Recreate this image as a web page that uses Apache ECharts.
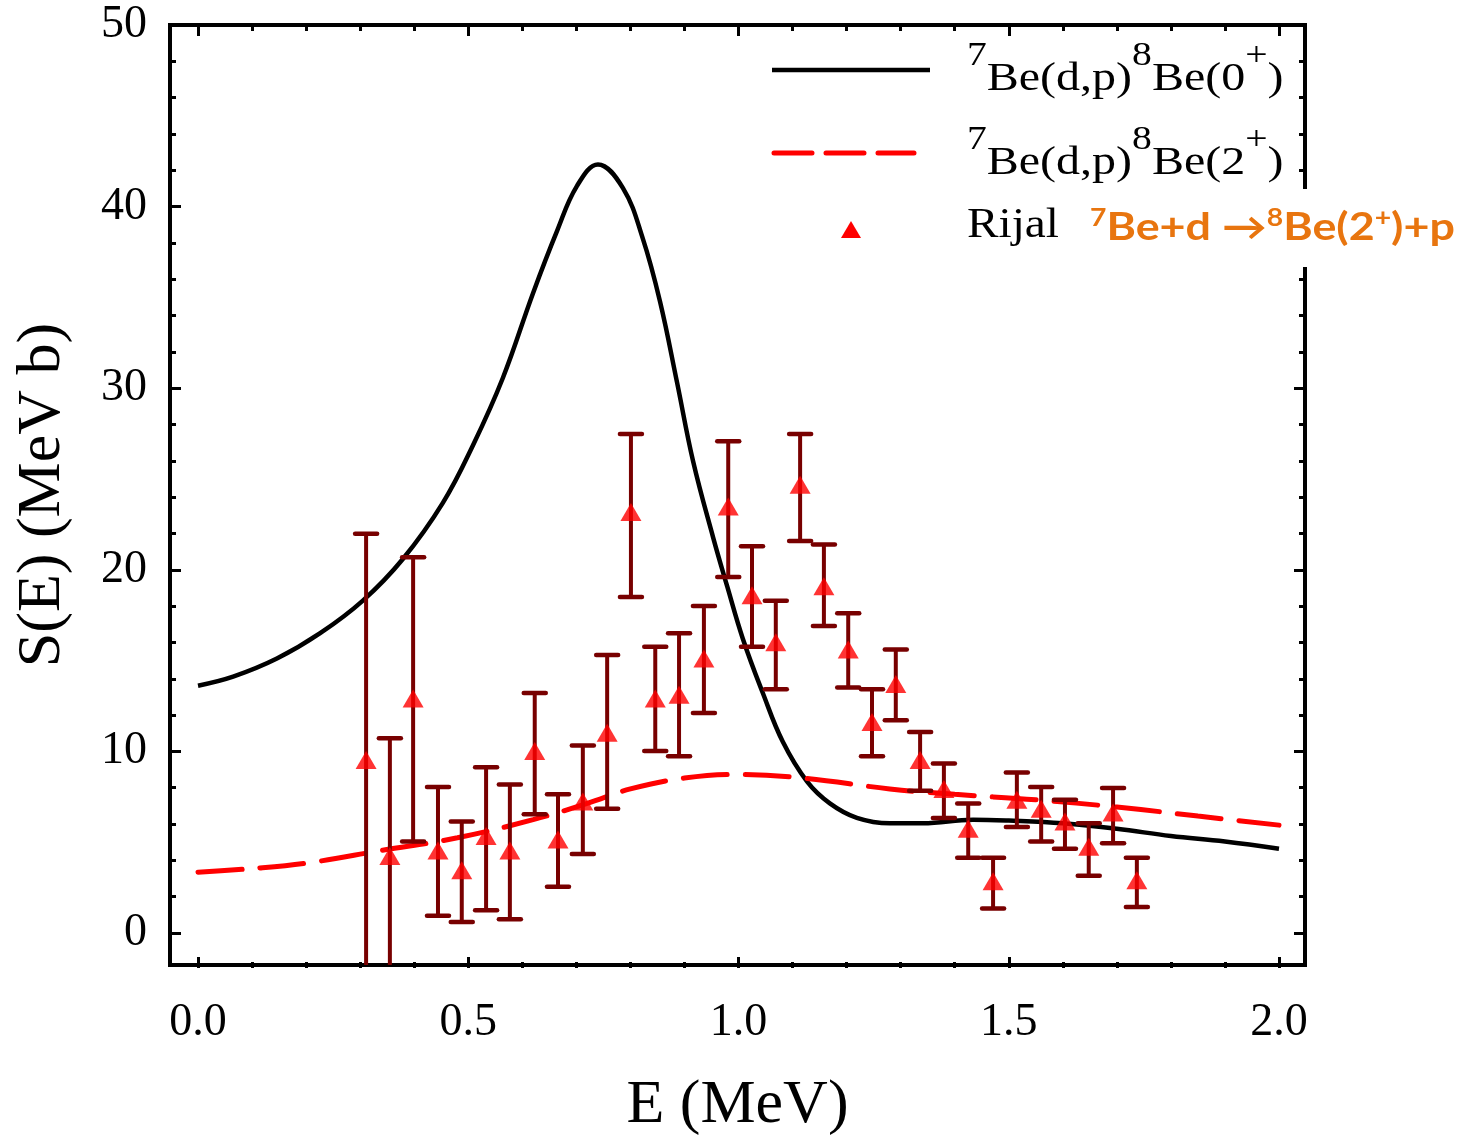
<!DOCTYPE html>
<html>
<head>
<meta charset="utf-8">
<script src="https://cdn.jsdelivr.net/npm/echarts@6/dist/echarts.min.js"></script>
<style>
  html, body { margin: 0; padding: 0; background: #fff; }
  #chart { width: 1460px; height: 1142px; }
</style>
</head>
<body>
<div id="chart"></div>
<script>
// ---------------- DATA ----------------
// Theory curve 7Be(d,p)8Be(0+)
const curve0E = [0.0, 0.065, 0.146, 0.226, 0.305, 0.379, 0.453, 0.509, 0.564, 0.620, 0.664, 0.701, 0.740, 0.786, 0.823, 0.855, 0.886, 0.916, 0.953, 0.979, 1.008, 1.045, 1.082, 1.127, 1.169, 1.219, 1.280, 1.341, 1.434, 1.5, 1.6, 1.7, 1.8, 1.9, 2.0];
const curve0S = [13.5, 14.0, 15.0, 16.4, 18.2, 20.5, 23.6, 26.8, 30.5, 35.2, 38.6, 41.1, 42.3, 41.0, 38.2, 34.7, 30.3, 25.9, 21.7, 19.0, 16.1, 13.1, 10.4, 8.2, 7.0, 6.2, 5.9, 5.9, 6.1, 6.05, 5.9, 5.6, 5.2, 4.9, 4.5];
// Theory curve 7Be(d,p)8Be(2+)
const curve2E = [0.0, 0.1, 0.2, 0.34, 0.48, 0.62, 0.72, 0.8, 0.9, 1.0, 1.12, 1.28, 1.4, 1.55, 1.7, 1.85, 2.0];
const curve2S = [3.2, 3.4, 3.7, 4.4, 5.1, 6.1, 7.0, 7.8, 8.4, 8.6, 8.4, 7.8, 7.5, 7.2, 6.8, 6.3, 5.8];
// Rijal data points
const rijalE  = [0.311, 0.355, 0.398, 0.444, 0.488, 0.533, 0.577, 0.623, 0.666, 0.712, 0.757, 0.801, 0.846, 0.890, 0.936, 0.981, 1.025, 1.069, 1.114, 1.158, 1.203, 1.247, 1.291, 1.336, 1.380, 1.425, 1.471, 1.515, 1.560, 1.604, 1.648, 1.693, 1.737];
const rijalS  = [9.4, 4.1, 12.8, 4.4, 3.3, 5.2, 4.4, 9.9, 5.0, 7.1, 10.9, 23.1, 12.8, 13.0, 15.0, 23.4, 18.5, 15.9, 24.6, 19.0, 15.5, 11.5, 13.6, 9.4, 7.8, 5.6, 2.7, 7.2, 6.7, 6.0, 4.6, 6.5, 2.75];
const rijalHi = [21.9, 10.6, 20.6, 7.9, 6.0, 9.0, 8.05, 13.1, 7.5, 10.2, 15.2, 27.4, 15.65, 16.4, 17.9, 27.0, 21.2, 18.2, 27.4, 21.3, 17.5, 13.3, 15.5, 10.95, 9.2, 7.0, 4.0, 8.7, 7.9, 7.2, 5.9, 7.85, 4.0];
const rijalLo = [-3.1, -2.4, 4.9, 0.8, 0.45, 1.1, 0.6, 6.4, 2.4, 4.2, 6.7, 18.4, 9.9, 9.6, 12.0, 19.5, 15.65, 13.3, 21.5, 16.8, 13.4, 9.6, 11.6, 7.7, 6.2, 4.0, 1.2, 5.7, 4.9, 4.5, 3.0, 4.8, 1.27];

// Tick labels
const xTickLabels = ['0.0', '0.5', '1.0', '1.5', '2.0'];
const yTickLabels = ['0', '10', '20', '30', '40', '50'];

// Texts
const xTitle = 'E (MeV)';
const yTitle = 'S(E) (MeV b)';
const legend0 = '{sup|7}{n|Be(d,p)}{sup|8}{n|Be(0}{sup|+}{n|)}';
const legend2 = '{sup|7}{n|Be(d,p)}{sup|8}{n|Be(2}{sup|+}{n|)}';
const legendData = 'Rijal';
const legendNote = '{sup|7}{n|Be+d \u2192}{sup|8}{n|Be(2}{sup|+}{n|)+p}';

// ---------------- LAYOUT ----------------
const FRAME = { left: 170, top: 25, right: 1305, bottom: 968 };
const INNER = { left: 198, top: 25, right: 1279, bottom: 933 }; // x 0..2, y 0..50
const pxPerX = (INNER.right - INNER.left) / 2;
const pxPerY = (INNER.bottom - INNER.top) / 50;
const xMinFrame = -(INNER.left - FRAME.left) / pxPerX;
const xMaxFrame = 2 + (FRAME.right - INNER.right) / pxPerX;
const yMinFrame = -(FRAME.bottom - INNER.bottom) / pxPerY;

const SERIF = '"Liberation Serif", "Times New Roman", serif';
const SANS_B = 'Lato, "Open Sans", sans-serif';
const ERR_COLOR = '#780000';
const ORANGE = '#e8750f';

const chart = echarts.init(document.getElementById('chart'), null, { renderer: 'canvas' });

const tickStyle = { inside: true, length: 11, lineStyle: { color: '#000', width: 3 } };
const minorStyle = { show: true, splitNumber: 5, length: 6, lineStyle: { color: '#000', width: 3 } };
const noLine = { show: false, onZero: false };

const serifRich = {
  n: { fontFamily: SERIF, fontSize: 40, lineHeight: 59, verticalAlign: 'bottom', fill: '#000' },
  sup: { fontFamily: SERIF, fontSize: 33, lineHeight: 36, verticalAlign: 'top', fill: '#000' }
};

const option = {
  animation: false,
  backgroundColor: '#fff',
  grid: [
    { left: FRAME.left, top: FRAME.top, width: FRAME.right - FRAME.left, height: FRAME.bottom - FRAME.top,
      show: true, borderColor: '#000', borderWidth: 4, backgroundColor: 'transparent' },
    { left: INNER.left, top: INNER.top, width: INNER.right - INNER.left, height: INNER.bottom - INNER.top }
  ],
  xAxis: [
    { type: 'value', gridIndex: 0, min: xMinFrame, max: xMaxFrame,
      axisLine: noLine, axisTick: { show: false }, axisLabel: { show: false }, splitLine: { show: false },
      name: xTitle, nameLocation: 'middle', nameGap: 110,
      nameTextStyle: { fontFamily: SERIF, fontSize: 62, color: '#000' } },
    { type: 'value', gridIndex: 1, position: 'bottom', offset: FRAME.bottom - INNER.bottom, min: 0, max: 2, interval: 0.5,
      axisLine: noLine, axisTick: tickStyle, minorTick: minorStyle, splitLine: { show: false },
      axisLabel: { margin: 32, fontFamily: SERIF, fontSize: 46, color: '#000',
        formatter: (v, i) => xTickLabels[i] } },
    { type: 'value', gridIndex: 1, position: 'top', offset: 0, min: 0, max: 2, interval: 0.5,
      axisLine: noLine, axisTick: tickStyle, minorTick: minorStyle, splitLine: { show: false },
      axisLabel: { show: false } }
  ],
  yAxis: [
    { type: 'value', gridIndex: 0, min: yMinFrame, max: 50,
      axisLine: noLine, axisTick: { show: false }, axisLabel: { show: false }, splitLine: { show: false },
      name: yTitle, nameLocation: 'middle', nameGap: 96, nameRotate: 90,
      nameTextStyle: { fontFamily: SERIF, fontSize: 62, color: '#000' } },
    { type: 'value', gridIndex: 1, position: 'left', offset: INNER.left - FRAME.left, min: 0, max: 50, interval: 10,
      axisLine: noLine, axisTick: tickStyle, minorTick: minorStyle, splitLine: { show: false },
      axisLabel: { margin: 23, fontFamily: SERIF, fontSize: 46, color: '#000',
        formatter: (v, i) => yTickLabels[i] } },
    { type: 'value', gridIndex: 1, position: 'right', offset: FRAME.right - INNER.right, min: 0, max: 50, interval: 10,
      axisLine: noLine, axisTick: tickStyle, minorTick: minorStyle, splitLine: { show: false },
      axisLabel: { show: false } }
  ],
  series: [
    { type: 'line', name: '0+', xAxisIndex: 0, yAxisIndex: 0, data: curve0E.map((e, i) => [e, curve0S[i]]),
      smooth: 0.4, symbol: 'none', clip: true,
      lineStyle: { color: '#000', width: 4.5 }, z: 2 },
    { type: 'line', name: '2+', xAxisIndex: 0, yAxisIndex: 0, data: curve2E.map((e, i) => [e, curve2S[i]]),
      smooth: 0.4, symbol: 'none', clip: true,
      lineStyle: { color: '#ff0000', width: 5, type: [44, 18], cap: 'round' }, z: 2 },
    { type: 'custom', name: 'err', xAxisIndex: 0, yAxisIndex: 0, clip: true, z: 3,
      data: rijalE.map((e, i) => [e, rijalS[i], rijalLo[i], rijalHi[i]]),
      encode: { x: 0, y: [2, 3] },
      renderItem: function (params, api) {
        const x = api.value(0);
        const pHi = api.coord([x, api.value(3)]);
        const pLo = api.coord([x, api.value(2)]);
        const cw = 11;
        const st = { stroke: ERR_COLOR, lineWidth: 4.5, lineCap: 'round' };
        return { type: 'group', children: [
          { type: 'line', shape: { x1: pHi[0], y1: pHi[1], x2: pLo[0], y2: pLo[1] }, style: { stroke: ERR_COLOR, lineWidth: 4 } },
          { type: 'line', shape: { x1: pHi[0] - cw, y1: pHi[1], x2: pHi[0] + cw, y2: pHi[1] }, style: st },
          { type: 'line', shape: { x1: pLo[0] - cw, y1: pLo[1], x2: pLo[0] + cw, y2: pLo[1] }, style: st }
        ] };
      } },
    { type: 'scatter', name: 'Rijal', xAxisIndex: 0, yAxisIndex: 0, data: rijalE.map((e, i) => [e, rijalS[i]]),
      symbol: 'triangle', symbolSize: [21, 18], itemStyle: { color: '#ff0000' }, z: 4 }
  ],
  graphic: [
    { type: 'rect', z: 100, shape: { x: 1085, y: 189, width: 375, height: 78 }, style: { fill: '#fff' } },
    { type: 'line', z: 101, shape: { x1: 772, y1: 70, x2: 930, y2: 70 }, style: { stroke: '#000', lineWidth: 4.5 } },
    { type: 'line', z: 101, shape: { x1: 774, y1: 153, x2: 914, y2: 153 }, style: { stroke: '#ff0000', lineWidth: 5, lineDash: [38, 14], lineCap: 'round' } },
    { type: 'polygon', z: 101, shape: { points: [[841, 238], [861, 238], [851, 221]] }, style: { fill: '#ff0000' } },
    { type: 'text', z: 101, x: 967, y: 40, scaleX: 1.2, style: {
        text: legend0, align: 'left', verticalAlign: 'top', fill: '#000', rich: serifRich } },
    { type: 'text', z: 101, x: 967, y: 124, scaleX: 1.2, style: {
        text: legend2, align: 'left', verticalAlign: 'top', fill: '#000', rich: serifRich } },
    { type: 'text', z: 101, x: 967, y: 226, scaleX: 1.1, style: {
        text: legendData, align: 'left', verticalAlign: 'middle', fill: '#000',
        fontFamily: SERIF, fontSize: 43 } },
    { type: 'text', z: 101, x: 1090, y: 206, scaleX: 1.18, style: {
        text: legendNote, align: 'left', verticalAlign: 'top', fill: ORANGE,
        rich: {
          n: { fontFamily: SANS_B, fontWeight: 'bold', fontSize: 38, lineHeight: 41, verticalAlign: 'bottom', fill: ORANGE },
          sup: { fontFamily: SANS_B, fontWeight: 'bold', fontSize: 24, lineHeight: 28, verticalAlign: 'top', fill: ORANGE }
        } } }
  ]
};
chart.setOption(option);
</script>
</body>
</html>
